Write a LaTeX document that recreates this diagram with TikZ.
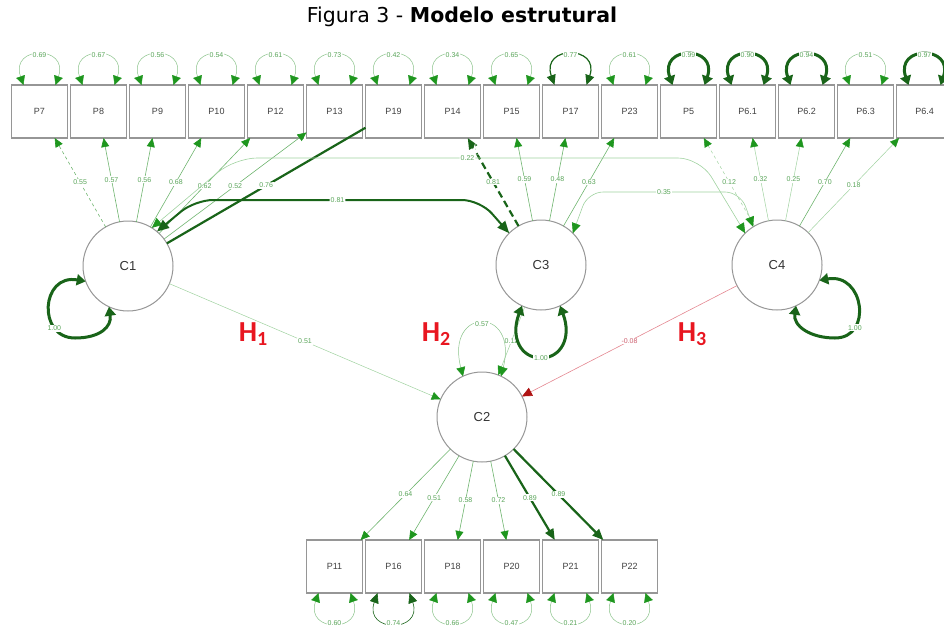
\documentclass[tikz,border=0pt]{standalone}
\usepackage{fontspec}
\setmainfont{Liberation Sans}
\newfontfamily\titlefont{DejaVu Sans}
\newfontfamily\hypfont{Carlito}
\usepackage{xcolor}
\usepackage{tikz}
\usetikzlibrary{arrows.meta}

\definecolor{hgreen}{RGB}{30,150,30}
\definecolor{lgreen}{RGB}{160,210,160}
\definecolor{mgreen}{RGB}{110,180,110}
\definecolor{dgreen}{RGB}{25,100,25}
\definecolor{lblgreen}{RGB}{90,165,90}
\definecolor{hred}{RGB}{232,22,32}
\definecolor{pinkline}{RGB}{228,135,145}
\definecolor{pinktext}{RGB}{205,95,110}
\definecolor{dred}{RGB}{175,20,20}
\definecolor{boxgray}{RGB}{150,150,150}

\begin{document}
\begin{tikzpicture}[x=1pt, y=-1pt,
  obs/.style={draw=boxgray, line width=1.3pt, minimum width=56pt, minimum height=53pt, inner sep=0, outer sep=0, font=\fontsize{9}{10}\selectfont, text=black!75},
  lat/.style={circle, draw=boxgray, line width=1pt, minimum size=90pt, inner sep=0, outer sep=0, font=\fontsize{13}{14}\selectfont, text=black!80},
  lbl/.style={fill=white, inner sep=1pt, font=\fontsize{7}{8}\selectfont, text=lblgreen},
  hyp/.style={font=\hypfont\bfseries\fontsize{29}{30}\selectfont, text=hred},
  ld/.style={draw=mgreen, line width=0.6pt, -{Triangle[length=9pt,width=8pt,color=hgreen]}},
  lf/.style={draw=lgreen, line width=0.5pt, -{Triangle[length=9pt,width=8pt,color=hgreen]}},
  lb/.style={draw=dgreen, line width=2.2pt, -{Triangle[length=11pt,width=9pt,color=dgreen]}},
  cov/.style={draw=lgreen, line width=0.6pt, rounded corners=22pt, {Triangle[length=10pt,width=9pt,color=hgreen]}-{Triangle[length=10pt,width=9pt,color=hgreen]}},
  covb/.style={draw=dgreen, line width=2pt, rounded corners=18pt, {Triangle[length=12pt,width=10pt,color=dgreen]}-{Triangle[length=12pt,width=10pt,color=dgreen]}},
  vthin/.style={draw=mgreen!80, line width=0.5pt, {Triangle[length=9pt,width=9pt,color=hgreen]}-{Triangle[length=9pt,width=9pt,color=hgreen]}},
  vmid/.style={draw=dgreen, line width=1.2pt, {Triangle[length=10pt,width=9pt,color=dgreen]}-{Triangle[length=10pt,width=9pt,color=dgreen]}},
  vbold/.style={draw=dgreen, line width=3pt, {Triangle[length=9pt,width=11pt,color=dgreen]}-{Triangle[length=9pt,width=11pt,color=dgreen]}},
  negreg/.style={draw=pinkline, line width=0.6pt, -{Triangle[length=10pt,width=9pt,color=dred]}}]
\useasboundingbox (0,0) rectangle (944,635);
\node[font=\titlefont\fontsize{20.5}{22}\selectfont] (title) at (462,17) {Figura 3 - \textbf{Modelo estrutural}};
%top indicators
\node[obs] (P7) at (39.5,111.5) {P7};
\node[obs] (P8) at (98.5,111.5) {P8};
\node[obs] (P9) at (157.5,111.5) {P9};
\node[obs] (P10) at (216.5,111.5) {P10};
\node[obs] (P12) at (275.5,111.5) {P12};
\node[obs] (P13) at (334.5,111.5) {P13};
\node[obs] (P19) at (393.5,111.5) {P19};
\node[obs] (P14) at (452.5,111.5) {P14};
\node[obs] (P15) at (511.5,111.5) {P15};
\node[obs] (P17) at (570.5,111.5) {P17};
\node[obs] (P23) at (629.5,111.5) {P23};
\node[obs] (P5) at (688.5,111.5) {P5};
\node[obs] (P61) at (747.5,111.5) {P6.1};
\node[obs] (P62) at (806.5,111.5) {P6.2};
\node[obs] (P63) at (865.5,111.5) {P6.3};
\node[obs] (P64) at (924.5,111.5) {P6.4};
%bottom indicators
\node[obs] (P11) at (334.5,566.5) {P11};
\node[obs] (P16) at (393.5,566.5) {P16};
\node[obs] (P18) at (452.5,566.5) {P18};
\node[obs] (P20) at (511.5,566.5) {P20};
\node[obs] (P21) at (570.5,566.5) {P21};
\node[obs] (P22) at (629.5,566.5) {P22};
%latent
\node[lat] (C1) at (128,266) {C1};
\node[lat] (C3) at (541,265) {C3};
\node[lat] (C4) at (777,265) {C4};
\node[lat] (C2) at (482,417) {C2};
\node[hyp] (H1) at (253,334) {H\raisebox{-4pt}{\fontsize{20}{20}\selectfont 1}};
\node[hyp] (H2) at (436,334) {H\raisebox{-4pt}{\fontsize{20}{20}\selectfont 2}};
\node[hyp] (H3) at (692,334) {H\raisebox{-4pt}{\fontsize{20}{20}\selectfont 3}};
%loadings
\draw [ld, dashed] (C1) edge node[lbl] {0.55} (P7);
\draw [ld] (C1) edge node[lbl] {0.57} (P8);
\draw [ld] (C1) edge node[lbl] {0.56} (P9);
\draw [ld] (C1) edge node[lbl] {0.68} (P10);
\draw [ld] (C1) edge node[lbl] {0.62} (P12);
\draw [ld] (C1) edge node[lbl] {0.52} (P13);
\draw [lb, -] (C1) edge node[lbl] {0.76} (P19);
\draw [lb, dash pattern=on 7pt off 4pt] (C3) edge node[lbl] {0.81} (P14);
\draw [ld] (C3) edge node[lbl] {0.59} (P15);
\draw [ld] (C3) edge node[lbl] {0.48} (P17);
\draw [ld] (C3) edge node[lbl] {0.63} (P23);
\draw [lf, dashed] (C4) edge node[lbl] {0.12} (P5);
\draw [lf] (C4) edge node[lbl] {0.32} (P61);
\draw [lf] (C4) edge node[lbl] {0.25} (P62);
\draw [ld] (C4) edge node[lbl] {0.70} (P63);
\draw [lf] (C4) edge node[lbl] {0.18} (P64);
\draw [ld] (C2) edge node[lbl] {0.64} (P11);
\draw [ld] (C2) edge node[lbl] {0.51} (P16);
\draw [ld] (C2) edge node[lbl] {0.58} (P18);
\draw [ld] (C2) edge node[lbl] {0.72} (P20);
\draw [lb] (C2) edge node[lbl] {0.89} (P21);
\draw [lb] (C2) edge node[lbl] {0.89} (P22);
%covariances
\draw [cov] (C1.58) -- (235,158) -- node[lbl] {0.22} (700,158) -- (C4.135);
\draw [covb] (C1.50) -- (195,200) -- node[lbl] {0.81} (480,200) -- (C3.135);
\draw [cov, rounded corners=15pt] (C3.45) -- (588,192) -- node[lbl] {0.35} (740,192) -- (C4.122);
%regressions
\draw [lf] (C1) edge node[lbl] {0.51} (C2);
\draw [lf] (C3) edge node[lbl] {0.12} (C2);
\draw [negreg] (C4) edge node[lbl, text=pinktext] {-0.08} (C2);
%variances
\draw [vthin] ([xshift=-16pt]P7.north) .. controls +(-14,-40) and +(14,-40) .. node[lbl] {0.69} ([xshift=16pt]P7.north);
\draw [vthin] ([xshift=-16pt]P8.north) .. controls +(-14,-40) and +(14,-40) .. node[lbl] {0.67} ([xshift=16pt]P8.north);
\draw [vthin] ([xshift=-16pt]P9.north) .. controls +(-14,-40) and +(14,-40) .. node[lbl] {0.56} ([xshift=16pt]P9.north);
\draw [vthin] ([xshift=-16pt]P10.north) .. controls +(-14,-40) and +(14,-40) .. node[lbl] {0.54} ([xshift=16pt]P10.north);
\draw [vthin] ([xshift=-16pt]P12.north) .. controls +(-14,-40) and +(14,-40) .. node[lbl] {0.61} ([xshift=16pt]P12.north);
\draw [vthin] ([xshift=-16pt]P13.north) .. controls +(-14,-40) and +(14,-40) .. node[lbl] {0.73} ([xshift=16pt]P13.north);
\draw [vthin] ([xshift=-16pt]P19.north) .. controls +(-14,-40) and +(14,-40) .. node[lbl] {0.42} ([xshift=16pt]P19.north);
\draw [vthin] ([xshift=-16pt]P14.north) .. controls +(-14,-40) and +(14,-40) .. node[lbl] {0.34} ([xshift=16pt]P14.north);
\draw [vthin] ([xshift=-16pt]P15.north) .. controls +(-14,-40) and +(14,-40) .. node[lbl] {0.65} ([xshift=16pt]P15.north);
\draw [vmid] ([xshift=-16pt]P17.north) .. controls +(-14,-40) and +(14,-40) .. node[lbl] {0.77} ([xshift=16pt]P17.north);
\draw [vthin] ([xshift=-16pt]P23.north) .. controls +(-14,-40) and +(14,-40) .. node[lbl] {0.61} ([xshift=16pt]P23.north);
\draw [vbold] ([xshift=-16pt]P5.north) .. controls +(-14,-40) and +(14,-40) .. node[lbl] {0.99} ([xshift=16pt]P5.north);
\draw [vbold] ([xshift=-16pt]P61.north) .. controls +(-14,-40) and +(14,-40) .. node[lbl] {0.90} ([xshift=16pt]P61.north);
\draw [vbold] ([xshift=-16pt]P62.north) .. controls +(-14,-40) and +(14,-40) .. node[lbl] {0.94} ([xshift=16pt]P62.north);
\draw [vthin] ([xshift=-16pt]P63.north) .. controls +(-14,-40) and +(14,-40) .. node[lbl] {0.51} ([xshift=16pt]P63.north);
\draw [vbold] ([xshift=-16pt]P64.north) .. controls +(-14,-40) and +(14,-40) .. node[lbl] {0.97} ([xshift=16pt]P64.north);
\draw [vthin] ([xshift=-16pt]P11.south) .. controls +(-14,40) and +(14,40) .. node[lbl] {0.60} ([xshift=16pt]P11.south);
\draw [vmid, line width=0.6pt] ([xshift=-16pt]P16.south) .. controls +(-14,40) and +(14,40) .. node[lbl] {0.74} ([xshift=16pt]P16.south);
\draw [vthin] ([xshift=-16pt]P18.south) .. controls +(-14,40) and +(14,40) .. node[lbl] {0.66} ([xshift=16pt]P18.south);
\draw [vthin] ([xshift=-16pt]P20.south) .. controls +(-14,40) and +(14,40) .. node[lbl] {0.47} ([xshift=16pt]P20.south);
\draw [vthin] ([xshift=-16pt]P21.south) .. controls +(-14,40) and +(14,40) .. node[lbl] {0.21} ([xshift=16pt]P21.south);
\draw [vthin] ([xshift=-16pt]P22.south) .. controls +(-14,40) and +(14,40) .. node[lbl] {0.20} ([xshift=16pt]P22.south);
\draw [vthin] (C2.115) .. controls +(-18,-70) and +(18,-70) .. node[lbl] {0.57} (C2.65);
\draw [vbold] (C1.200) .. controls +(-45,-8) and +(-38,0) .. node[lbl, pos=0.75] {1.00} (75,338) .. controls +(25,0) and +(3,20) .. (C1.245);
\draw [vbold] (C3.245) .. controls +(-12,32) and +(-20,0) .. (541,358) .. controls +(20,0) and +(12,32) .. node[lbl, pos=0] {1.00} (C3.295);
\draw [vbold] (C4.-20) .. controls +(45,-8) and +(38,0) .. node[lbl, pos=0.75] {1.00} (835,338) .. controls +(-25,0) and +(-3,20) .. (C4.-65);
\end{tikzpicture}
\end{document}
